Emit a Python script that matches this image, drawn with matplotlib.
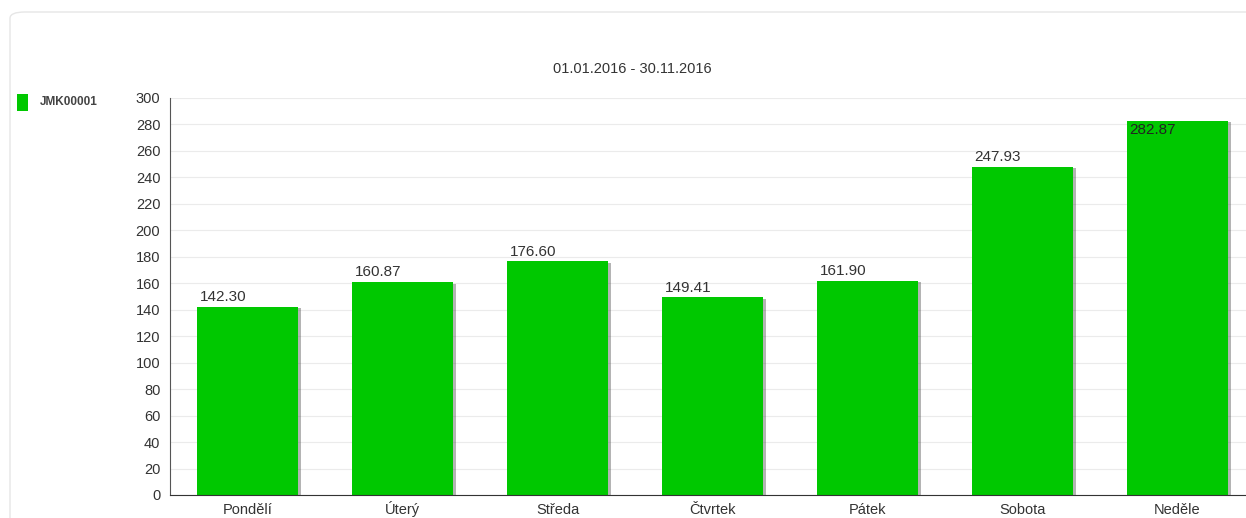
import matplotlib
matplotlib.use("Agg")
import matplotlib.pyplot as plt
import matplotlib.patheffects as pe
from matplotlib.patches import FancyBboxPatch, Rectangle

categories = ["Pondělí", "Úterý", "Středa", "Čtvrtek", "Pátek", "Sobota", "Neděle"]
values = [142.30, 160.87, 176.60, 149.41, 161.90, 247.93, 282.87]
series_name = "JMK00001"
title = "01.01.2016 - 30.11.2016"
yticks = list(range(0, 301, 20))

plt.rcParams['font.family'] = ['Liberation Sans', 'DejaVu Sans']
W, H = 1246, 518
fig = plt.figure(figsize=(W / 100, H / 100), dpi=100)

# card border
card = FancyBboxPatch((10 / W, -20 / H), (W + 20) / W, (H - 12 + 20) / H,
                      boxstyle="round,pad=0,rounding_size=0.012", transform=fig.transFigure,
                      facecolor="none", edgecolor="#e6e6e6", linewidth=1.0, zorder=-1)
fig.patches.append(card)

ax = fig.add_axes([170 / W, 1 - 495 / H, (W - 170) / W, (495 - 98) / H])
ax.set_facecolor("none")
color = "#00c800"
bars = ax.bar(range(len(categories)), values, width=0.65, color=color, zorder=3,
              path_effects=[pe.SimplePatchShadow(offset=(2, -1), shadow_rgbFace="#444444", alpha=0.4), pe.Normal()])

ax.set_xlim(-0.5, -0.5 + (W - 170) / 155)
ax.set_ylim(0, 300)
ax.set_yticks(yticks)
ax.set_yticklabels([str(t) for t in yticks], fontsize=10.5, color="#333333")
ax.set_xticks(range(len(categories)))
ax.set_xticklabels(categories, fontsize=10.5, color="#333333")
for lbl in ax.get_xticklabels():
    lbl.set_verticalalignment("baseline")
ax.tick_params(axis="x", length=0, pad=14)
ax.tick_params(axis="y", length=0, pad=7)
ax.grid(axis="y", color="#ebebeb", linewidth=0.8, zorder=0)
for s in ["top", "right"]:
    ax.spines[s].set_visible(False)
ax.spines["left"].set_color("#555555")
ax.spines["bottom"].set_color("#333333")
ax.spines["left"].set_zorder(4)
ax.spines["bottom"].set_zorder(4)

for i, (b, v) in enumerate(zip(bars, values)):
    x0 = b.get_x() + 0.015
    if v > 270:
        ax.text(x0, v - 2, f"{v:.2f}", ha="left", va="top", fontsize=11, color="#222222", zorder=5)
    else:
        ax.text(x0, v + 2, f"{v:.2f}", ha="left", va="bottom", fontsize=11, color="#333333", zorder=5)

fig.text(632 / W, 1 - 69 / H, title, ha="center", va="center", fontsize=10.5, color="#333333")

# legend
fig.patches.append(Rectangle((17 / W, 1 - 111 / H), 11 / W, 17 / H, transform=fig.transFigure,
                             facecolor=color, edgecolor="none"))
fig.text(40 / W, 1 - 102 / H, series_name, ha="left", va="center", fontsize=8.5,
         fontweight="bold", color="#444444")

fig.savefig("out.png", dpi=100)
